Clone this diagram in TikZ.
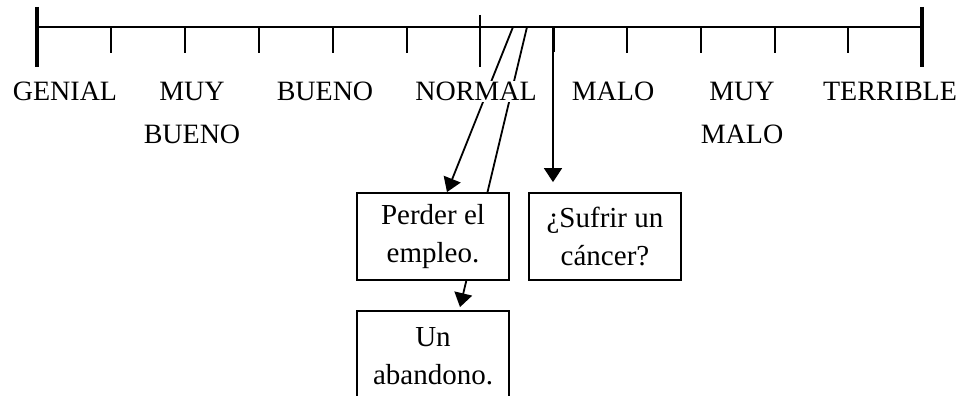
\documentclass[tikz,border=0pt]{standalone}
\usepackage{fontspec}
\setmainfont{Liberation Serif}
\usetikzlibrary{arrows.meta,backgrounds}
\begin{document}
\begin{tikzpicture}[x=1pt,y=-1pt,
  lbl/.style={font=\fontsize{28}{43}\selectfont,align=center,fill=white,inner sep=1pt,anchor=north},
  box/.style={draw,fill=white,font=\fontsize{29}{38}\selectfont,align=center,minimum width=152pt,minimum height=87pt,inner sep=0pt,line width=1.8pt},
  tk/.style={line width=1.8pt},
  bar/.style={line width=3.2pt},
  arr/.style={line width=1.8pt,-{Triangle[width=18pt,length=14pt]}}]
\useasboundingbox (0,0) rectangle (967,396);
\clip (0,0) rectangle (967,396);
% scale
\coordinate (L) at (37,27);
\coordinate (R) at (922,27);
\coordinate (a1) at (513,27);
\coordinate (a2) at (527,27);
\coordinate (a3) at (553,27);
% labels
\node[lbl] (genial) at (65,81) {GENIAL};
\node[lbl] (muybueno) at (192,81) {MUY\\BUENO};
\node[lbl] (bueno) at (325,81) {BUENO};
\node[lbl] (normal) at (476,81) {NORMAL};
\node[lbl] (malo) at (613,81) {MALO};
\node[lbl] (muymalo) at (742,81) {MUY\\MALO};
\node[lbl] (terrible) at (890,81) {TERRIBLE};
% boxes
\node[box] (perder) at (433,236.5) {Perder el\\empleo.};
\node[box] (sufrir) at (605,236.5) {¿Sufrir un\\cáncer?};
\node[box,minimum height=90pt] (abandono) at (433,356) {Un\\abandono.};
\begin{scope}[on background layer]
  \draw[tk] (L) -- (R);
  \draw[bar] (37,7) -- (37,67);
  \draw[bar] (922,7) -- (922,67);
  \foreach \x in {111,185,259,333,407,627,701,775,848}
    \draw[tk] (\x,27) -- (\x,53);
  \draw[tk] (480,15) -- (480,67);
  \draw[line width=3pt] (553,27) -- (553,52);
  \draw[arr] (a1) -- ([xshift=14pt]perder.north);
  \draw[arr] (a2) -- ([xshift=27pt,yshift=3pt]abandono.north);
  \draw[arr] (a3) -- ([xshift=-52pt,yshift=10pt]sufrir.north);
\end{scope}
\end{tikzpicture}
\end{document}
